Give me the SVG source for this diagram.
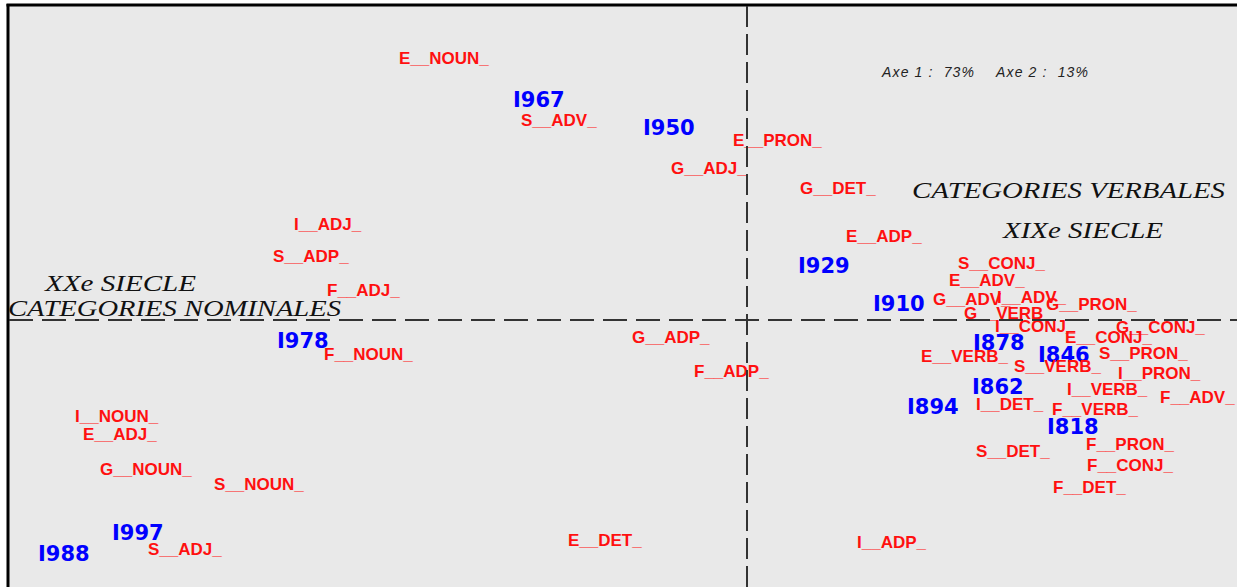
<svg xmlns="http://www.w3.org/2000/svg" width="1237" height="587" viewBox="0 0 1237 587">
<style>
.w{font-family:"Liberation Sans",Arial,sans-serif;font-weight:bold;font-size:17px;fill:#ff1010}
.y{font-family:"DejaVu Sans",Verdana,sans-serif;font-weight:bold;font-size:21px;fill:#0000ff}
.t{font-family:"Liberation Serif","Times New Roman",serif;font-style:italic;font-size:24px;fill:#111}
.a{font-family:"Liberation Sans",Arial,sans-serif;font-style:italic;font-size:14px;fill:#222;white-space:pre}
.ax{stroke:#333;stroke-width:2;fill:none}
</style>
<rect x="0" y="0" width="1237" height="587" fill="#ffffff"/>
<rect x="8" y="5" width="1229" height="582" fill="#e9e9e9"/>
<g id="frame">
<line x1="8" y1="4" x2="8" y2="587" stroke="#000" stroke-width="3"/>
<line x1="6.5" y1="5" x2="1237" y2="5" stroke="#000" stroke-width="3"/>
</g>
<g id="titles">
<text class="a" x="882" y="77" textLength="92" lengthAdjust="spacing">Axe 1 :  73%</text>
<text class="a" x="996" y="77" textLength="92" lengthAdjust="spacing">Axe 2 :  13%</text>
<text class="t" x="912" y="198" textLength="313" lengthAdjust="spacingAndGlyphs">CATEGORIES VERBALES</text>
<text class="t" x="1003" y="238" textLength="160" lengthAdjust="spacingAndGlyphs">XIXe SIECLE</text>
<text class="t" x="45" y="291" textLength="151" lengthAdjust="spacingAndGlyphs">XXe SIECLE</text>
<text class="t" x="8" y="316" textLength="333" lengthAdjust="spacingAndGlyphs">CATEGORIES NOMINALES</text>
</g>
<g id="years">
<g id="y1967"><text class="y" x="513" y="107">I967</text></g>
<g id="y1950"><text class="y" x="643" y="135">I950</text></g>
<g id="y1929"><text class="y" x="798" y="273">I929</text></g>
<g id="y1910"><text class="y" x="873" y="311">I910</text></g>
<g id="y1878"><text class="y" x="973" y="350">I878</text></g>
<g id="y1846"><text class="y" x="1038" y="362">I846</text></g>
<g id="y1862"><text class="y" x="972" y="394">I862</text></g>
<g id="y1894"><text class="y" x="907" y="414">I894</text></g>
<g id="y1818"><text class="y" x="1047" y="434">I818</text></g>
<g id="y1978"><text class="y" x="277" y="348">I978</text></g>
<g id="y1997"><text class="y" x="112" y="540">I997</text></g>
<g id="y1988"><text class="y" x="38" y="561">I988</text></g>
</g>
<g id="words">
<g id="E_NOUN"><text class="w" x="399" y="64">E__NOUN_</text></g>
<g id="S_ADV"><text class="w" x="521" y="126">S__ADV_</text></g>
<g id="E_PRON"><text class="w" x="733" y="146">E__PRON_</text></g>
<g id="G_ADJ"><text class="w" x="671" y="174">G__ADJ_</text></g>
<g id="G_DET"><text class="w" x="800" y="194">G__DET_</text></g>
<g id="E_ADP"><text class="w" x="846" y="242">E__ADP_</text></g>
<g id="S_CONJ"><text class="w" x="958" y="269">S__CONJ_</text></g>
<g id="E_ADV"><text class="w" x="949" y="286">E__ADV_</text></g>
<g id="G_ADV"><text class="w" x="933" y="305">G__ADV_</text></g>
<g id="I_ADV"><text class="w" x="997" y="303">I__ADV_</text></g>
<g id="G_PRON"><text class="w" x="1046" y="310">G__PRON_</text></g>
<g id="G_VERB"><text class="w" x="964" y="319">G__VERB_</text></g>
<g id="I_CONJ"><text class="w" x="995" y="332">I__CONJ_</text></g>
<g id="G_CONJ"><text class="w" x="1116" y="333">G__CONJ_</text></g>
<g id="E_CONJ"><text class="w" x="1065" y="343">E__CONJ_</text></g>
<g id="E_VERB"><text class="w" x="921" y="362">E__VERB_</text></g>
<g id="S_PRON"><text class="w" x="1099" y="359">S__PRON_</text></g>
<g id="S_VERB"><text class="w" x="1014" y="372">S__VERB_</text></g>
<g id="I_PRON"><text class="w" x="1118" y="379">I__PRON_</text></g>
<g id="I_VERB"><text class="w" x="1067" y="395">I__VERB_</text></g>
<g id="F_ADV"><text class="w" x="1160" y="403">F__ADV_</text></g>
<g id="I_DET"><text class="w" x="976" y="410">I__DET_</text></g>
<g id="F_VERB"><text class="w" x="1052" y="415">F__VERB_</text></g>
<g id="F_PRON"><text class="w" x="1086" y="450">F__PRON_</text></g>
<g id="S_DET"><text class="w" x="976" y="457">S__DET_</text></g>
<g id="F_CONJ"><text class="w" x="1087" y="471">F__CONJ_</text></g>
<g id="F_DET"><text class="w" x="1053" y="493">F__DET_</text></g>
<g id="I_ADP"><text class="w" x="857" y="548">I__ADP_</text></g>
<g id="E_DET"><text class="w" x="568" y="546">E__DET_</text></g>
<g id="G_ADP"><text class="w" x="632" y="343">G__ADP_</text></g>
<g id="F_ADP"><text class="w" x="694" y="377">F__ADP_</text></g>
<g id="F_NOUN"><text class="w" x="324" y="360">F__NOUN_</text></g>
<g id="I_ADJ"><text class="w" x="294" y="230">I__ADJ_</text></g>
<g id="S_ADP"><text class="w" x="273" y="262">S__ADP_</text></g>
<g id="F_ADJ"><text class="w" x="327" y="296">F__ADJ_</text></g>
<g id="I_NOUN"><text class="w" x="75" y="422">I__NOUN_</text></g>
<g id="E_ADJ"><text class="w" x="83" y="440">E__ADJ_</text></g>
<g id="G_NOUN"><text class="w" x="100" y="475">G__NOUN_</text></g>
<g id="S_NOUN"><text class="w" x="214" y="490">S__NOUN_</text></g>
<g id="S_ADJ"><text class="w" x="148" y="555">S__ADJ_</text></g>
</g>
<g id="axes">
<line class="ax" x1="9" y1="320" x2="1237" y2="320" stroke-dasharray="24 9"/>
<line class="ax" x1="747" y1="6" x2="747" y2="587" stroke-dasharray="21 7"/>
</g>
</svg>
